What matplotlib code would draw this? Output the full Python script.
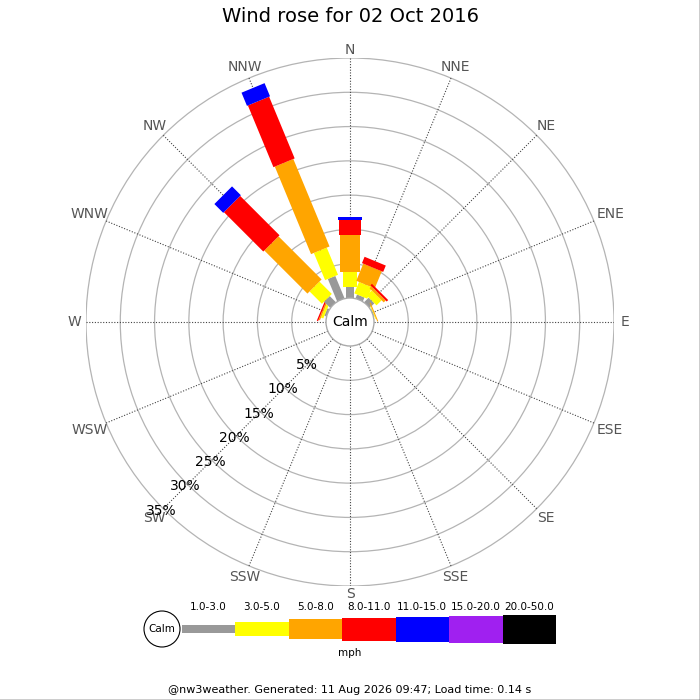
import numpy as np
import matplotlib
matplotlib.use("Agg")
import matplotlib.pyplot as plt
from matplotlib.patches import Polygon, Circle, Rectangle

directions = ['N', 'NNE', 'NE', 'ENE', 'E', 'ESE', 'SE', 'SSE',
              'S', 'SSW', 'SW', 'WSW', 'W', 'WNW', 'NW', 'NNW']
speed_bins = ['1.0-3.0', '3.0-5.0', '5.0-8.0', '8.0-11.0',
              '11.0-15.0', '15.0-20.0', '20.0-50.0']
colors = ['#999999', '#ffff00', '#ffa500', '#ff0000',
          '#0000ff', '#a020f0', '#000000']

# percent of observations per direction, one list per speed bin
freq_1_3 = [1.65, 0.6, 0.95, 0.1, 0, 0, 0, 0, 0, 0, 0, 0, 0, 0.3, 1.27, 3.53]
freq_3_5 = [2.18, 1.8, 1.05, 0.1, 0, 0, 0, 0, 0, 0, 0, 0, 0, 0.35, 2.55, 4.29]
freq_5_8 = [5.35, 2.7, 0.4, 0.15, 0, 0, 0, 0, 0, 0, 0, 0, 0, 0.2, 8.89, 13.81]
freq_8_11 = [2.19, 1.0, 0.3, 0, 0, 0, 0, 0, 0, 0, 0, 0, 0, 0.2, 8.12, 9.74]
freq_11_15 = [0.39, 0, 0, 0, 0, 0, 0, 0, 0, 0, 0, 0, 0, 0, 1.82, 2.08]
freq_15_20 = [0] * 16
freq_20_50 = [0] * 16
freqs = [freq_1_3, freq_3_5, freq_5_8, freq_8_11, freq_11_15, freq_15_20, freq_20_50]

ring_pcts = [5, 10, 15, 20, 25, 30, 35]

# geometry, in percent units (1 % = 6.86 px)
PX = 6.86
CALM_R = 3.5
R_OUT = CALM_R + 35
bar_widths = [1.17, 2.04, 2.92, 3.35, 3.64, 3.94, 4.23]

fig = plt.figure(figsize=(7, 7), dpi=100)
half = 264 / 700
ax = fig.add_axes([0.5 - half, 0.54 - half, 2 * half, 2 * half])
ax.set_xlim(-R_OUT, R_OUT)
ax.set_ylim(-R_OUT, R_OUT)
ax.set_aspect('equal')
ax.axis('off')

angles = np.deg2rad(np.arange(16) * 22.5)

# rings and spokes
for p in ring_pcts:
    ax.add_patch(Circle((0, 0), CALM_R + p, fill=False, ec='#b4b4b4', lw=0.9, zorder=1))
for a in angles:
    ax.plot([CALM_R * np.sin(a), R_OUT * np.sin(a)],
            [CALM_R * np.cos(a), R_OUT * np.cos(a)],
            color='#444444', lw=0.8, ls=(0, (1, 1.5)), zorder=1)

# stacked bars
for i, a in enumerate(angles):
    u = np.array([np.sin(a), np.cos(a)])
    pv = np.array([np.cos(a), -np.sin(a)])
    cum = 0.0
    for k, f in enumerate(freqs):
        v = f[i]
        if v <= 0:
            continue
        r0 = CALM_R + cum
        r1 = r0 + v
        hw = bar_widths[k] / 2
        pts = [r0 * u - hw * pv, r1 * u - hw * pv, r1 * u + hw * pv, r0 * u + hw * pv]
        ax.add_patch(Polygon(pts, closed=True, fc=colors[k], ec='none', zorder=3))
        cum += v

ax.add_patch(Circle((0, 0), CALM_R, fc='white', ec='#aaaaaa', lw=1, zorder=4))
ax.text(0, 0, 'Calm', ha='center', va='center', fontsize=10, zorder=5)

# compass labels, pushed out a little more where the text is wide
for name, a in zip(directions, angles):
    r = (272 + 0.27 * abs(np.sin(a)) * 13 * len(name)) / PX
    ax.text(r * np.sin(a), r * np.cos(a), name, ha='center', va='center',
            fontsize=10, color='#555555', clip_on=False)

# ring labels along SW
sw = np.deg2rad(225)
for p in ring_pcts:
    r = CALM_R + p + 0.4
    ax.text(r * np.sin(sw), r * np.cos(sw), f'{p}%', ha='center', va='center',
            fontsize=10, color='black', zorder=5)

fig.text(0.5, 1 - 17 / 700, 'Wind rose for 02 Oct 2016', ha='center', va='center',
         fontsize=14)

# legend in pixel coordinates
lax = fig.add_axes([0, 0, 1, 1], zorder=-1)
lax.set_xlim(0, 700)
lax.set_ylim(700, 0)
lax.axis('off')
leg_heights = [8.3, 14.3, 20.3, 23, 25, 27, 29]
leg_y = 629
x0 = 181.5
seg_w = 53.5
for k, (lab, c) in enumerate(zip(speed_bins, colors)):
    if k == 0:
        xs, w = x0, 235 - x0
    else:
        xs, w = 235 + (k - 1) * seg_w, seg_w
    h = leg_heights[k]
    lax.add_patch(Rectangle((xs, leg_y - h / 2), w, h, fc=c, ec='none'))
    lax.text(xs + w / 2, 607, lab, ha='center', va='center', fontsize=7.5)
lax.add_patch(Circle((162, leg_y), 18, fc='white', ec='black', lw=0.8))
lax.text(162, leg_y, 'Calm', ha='center', va='center', fontsize=7.5)
lax.text(350, 653, 'mph', ha='center', va='center', fontsize=7.5)
lax.text(350, 690, '@nw3weather. Generated: 11 Aug 2026 09:47; Load time: 0.14 s',
         ha='center', va='center', fontsize=8)
lax.plot([0, 699.5, 699.5], [699.5, 699.5, 0], color='black', lw=1)

fig.savefig('out.png', dpi=100)
